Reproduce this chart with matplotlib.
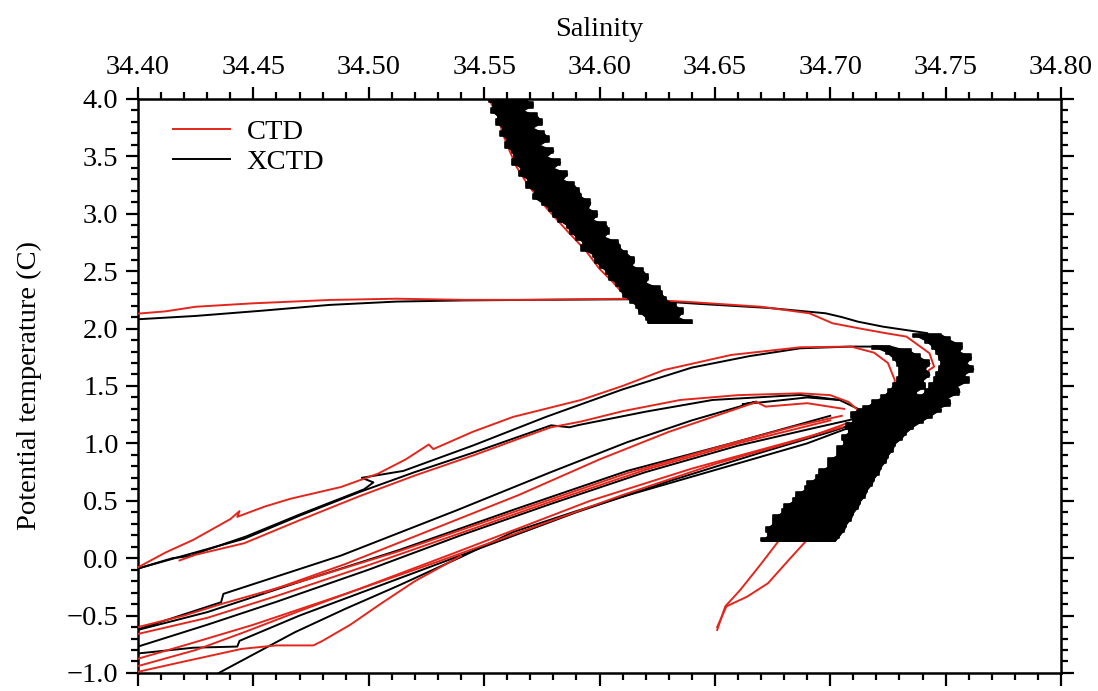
import matplotlib
matplotlib.use("Agg")
import matplotlib.pyplot as plt
from matplotlib.ticker import MultipleLocator, FormatStrFormatter, FuncFormatter

plt.rcParams["font.family"] = ["Liberation Serif", "DejaVu Serif"]

RED = "#e3261c"
BLACK = "#000000"
FS = 20.5

# ---- CTD profiles (salinity, potential temperature) ----
ctd_top_s = [34.552, 34.556, 34.558, 34.561, 34.564, 34.569, 34.577, 34.586, 34.594, 34.600, 34.606, 34.610, 34.615, 34.625]
ctd_top_t = [4.00, 3.85, 3.70, 3.55, 3.41, 3.25, 3.05, 2.85, 2.68, 2.52, 2.40, 2.31, 2.27, 2.25]

ctd_tongue_s = [34.400, 34.412, 34.425, 34.450, 34.483, 34.512, 34.541, 34.570, 34.613, 34.640, 34.670,
                34.691, 34.701, 34.713, 34.724, 34.733, 34.743, 34.745, 34.740, 34.735, 34.733, 34.729,
                34.722, 34.714, 34.705, 34.697, 34.690, 34.682, 34.673, 34.664, 34.655, 34.651]
ctd_tongue_t = [2.13, 2.15, 2.19, 2.22, 2.249, 2.26, 2.25, 2.25, 2.26, 2.23, 2.19,
                2.133, 2.046, 2.00, 1.96, 1.93, 1.785, 1.668, 1.60, 1.552, 1.436, 1.29,
                1.10, 0.90, 0.65, 0.40, 0.16, -0.016, -0.219, -0.335, -0.42, -0.60]

ctd_a_s = [34.400, 34.412, 34.424, 34.440, 34.444, 34.443, 34.455, 34.466, 34.488, 34.504, 34.516, 34.526,
           34.528, 34.545, 34.5625, 34.592, 34.610, 34.628, 34.657, 34.687, 34.709, 34.719, 34.725,
           34.728, 34.727, 34.722, 34.716, 34.708, 34.700, 34.692, 34.685, 34.678, 34.670, 34.661,
           34.6545, 34.651]
ctd_a_t = [-0.08, 0.05, 0.16, 0.34, 0.41, 0.36, 0.45, 0.517, 0.62, 0.736, 0.86, 0.99,
           0.95, 1.10, 1.23, 1.378, 1.50, 1.639, 1.77, 1.837, 1.843, 1.79, 1.70,
           1.55, 1.40, 1.29, 1.10, 0.88, 0.62, 0.40, 0.28, 0.16, -0.05, -0.277,
           -0.42, -0.625]

ctd_b_s = [34.418, 34.425, 34.446, 34.470, 34.496, 34.520, 34.546, 34.565, 34.579, 34.592, 34.610,
           34.635, 34.660, 34.687, 34.700, 34.708, 34.712]
ctd_b_t = [-0.02, 0.03, 0.13, 0.33, 0.54, 0.72, 0.90, 1.04, 1.14, 1.19, 1.28,
           1.378, 1.42, 1.436, 1.42, 1.36, 1.29]

ctd_h_s = [34.455, 34.490, 34.530, 34.565, 34.600, 34.630, 34.668, 34.672, 34.690, 34.706]
ctd_h_t = [-0.30, -0.05, 0.27, 0.55, 0.86, 1.10, 1.36, 1.32, 1.35, 1.30]

ctd_r1_s = [34.400, 34.420, 34.436, 34.471, 34.513, 34.5625, 34.612, 34.657, 34.685, 34.705]
ctd_r1_t = [-0.60, -0.50, -0.40, -0.20, 0.06, 0.40, 0.74, 1.00, 1.15, 1.24]
ctd_r2_s = [34.400, 34.430, 34.460, 34.500, 34.540, 34.580, 34.620, 34.660, 34.700]
ctd_r2_t = [-0.66, -0.52, -0.33, -0.06, 0.22, 0.50, 0.77, 1.00, 1.20]
ctd_r3_s = [34.400, 34.420, 34.450, 34.490, 34.530, 34.570, 34.610, 34.650, 34.690, 34.708]
ctd_r3_t = [-0.876, -0.76, -0.58, -0.31, -0.03, 0.26, 0.55, 0.82, 1.05, 1.18]
ctd_r4_s = [34.400, 34.425, 34.446, 34.470, 34.496, 34.538, 34.596, 34.640, 34.680, 34.705]
ctd_r4_t = [-0.94, -0.80, -0.645, -0.46, -0.267, 0.052, 0.50, 0.78, 1.00, 1.14]
ctd_r5_s = [34.400, 34.420, 34.445, 34.460, 34.476, 34.480, 34.492, 34.505, 34.520, 34.540]
ctd_r5_t = [-0.99, -0.90, -0.79, -0.76, -0.76, -0.72, -0.58, -0.40, -0.20, 0.02]

# ---- XCTD profiles ----
xctd_tongue_s = [34.400, 34.425, 34.454, 34.483, 34.512, 34.541, 34.570, 34.613, 34.644, 34.673,
                 34.698, 34.705, 34.712, 34.723, 34.742]
xctd_tongue_t = [2.081, 2.11, 2.156, 2.206, 2.235, 2.245, 2.25, 2.255, 2.214, 2.18,
                 2.133, 2.10, 2.06, 2.016, 1.96]

xctd_a_s = [34.400, 34.415, 34.423, 34.428, 34.447, 34.470, 34.498, 34.502, 34.497, 34.515, 34.545,
            34.577, 34.610, 34.640, 34.665, 34.687, 34.709, 34.723]
xctd_a_t = [-0.09, 0.00, 0.02, 0.06, 0.19, 0.38, 0.60, 0.66, 0.70, 0.76, 0.98,
            1.232, 1.47, 1.66, 1.76, 1.828, 1.843, 1.843]

xctd_b_s = [34.400, 34.446, 34.470, 34.496, 34.520, 34.546, 34.579, 34.587, 34.591, 34.620,
            34.649, 34.687, 34.704, 34.713]
xctd_b_t = [-0.09, 0.169, 0.37, 0.576, 0.75, 0.924, 1.157, 1.14, 1.16, 1.276,
            1.378, 1.422, 1.378, 1.291]

xctd_h_s = [34.400, 34.436, 34.437, 34.488, 34.538, 34.579, 34.612, 34.640, 34.668, 34.662, 34.690, 34.704]
xctd_h_t = [-0.62, -0.384, -0.311, 0.023, 0.416, 0.75, 1.01, 1.20, 1.363, 1.34, 1.40, 1.378]

xctd_k1_s = [34.400, 34.430, 34.460, 34.500, 34.540, 34.580, 34.620, 34.660, 34.690, 34.712]
xctd_k1_t = [-0.77, -0.58, -0.38, -0.10, 0.20, 0.48, 0.75, 0.98, 1.12, 1.22]
xctd_k2_s = [34.400, 34.424, 34.443, 34.444, 34.470, 34.510, 34.550, 34.590, 34.630, 34.670, 34.700, 34.715]
xctd_k2_t = [-0.83, -0.78, -0.77, -0.72, -0.50, -0.20, 0.10, 0.40, 0.67, 0.92, 1.10, 1.20]
xctd_k3_s = [34.435, 34.468, 34.490, 34.513, 34.540, 34.5625, 34.590, 34.612, 34.657, 34.690, 34.710]
xctd_k3_t = [-1.00, -0.645, -0.44, -0.238, 0.01, 0.227, 0.41, 0.547, 0.808, 1.00, 1.15]
xctd_k4_s = [34.400, 34.430, 34.471, 34.513, 34.5625, 34.612, 34.657, 34.700]
xctd_k4_t = [-0.625, -0.47, -0.20, 0.07, 0.42, 0.76, 1.00, 1.24]

# ---- XCTD spike envelopes (left / right salinity edge at each temperature) ----
band_up_t = [4.00, 3.95, 3.90, 3.85, 3.80, 3.75, 3.70, 3.65, 3.60, 3.55, 3.50, 3.45, 3.40, 3.35,
             3.30, 3.25, 3.20, 3.15, 3.10, 3.05, 3.00, 2.95, 2.90, 2.85, 2.80, 2.75, 2.70, 2.65,
             2.60, 2.55, 2.50, 2.45, 2.40, 2.35, 2.30, 2.25, 2.20, 2.15, 2.10, 2.05]
band_up_l = [34.552, 34.554, 34.553, 34.556, 34.555, 34.558, 34.557, 34.560, 34.559, 34.562, 34.563,
             34.562, 34.566, 34.565, 34.569, 34.568, 34.572, 34.571, 34.575, 34.578, 34.580, 34.582,
             34.586, 34.587, 34.590, 34.593, 34.592, 34.597, 34.598, 34.600, 34.603, 34.604, 34.607,
             34.609, 34.610, 34.613, 34.616, 34.617, 34.620, 34.621]
band_up_r = [34.568, 34.571, 34.567, 34.573, 34.575, 34.571, 34.576, 34.578, 34.574, 34.580, 34.577,
             34.583, 34.580, 34.586, 34.584, 34.589, 34.591, 34.592, 34.596, 34.595, 34.599, 34.597,
             34.603, 34.604, 34.602, 34.608, 34.609, 34.612, 34.615, 34.614, 34.619, 34.621, 34.620,
             34.626, 34.627, 34.629, 34.633, 34.636, 34.634, 34.640]

band_out_t = [1.95, 1.90, 1.85, 1.80, 1.75, 1.70, 1.65, 1.60, 1.55, 1.50, 1.45, 1.40, 1.35, 1.30]
band_out_l = [34.736, 34.741, 34.744, 34.746, 34.747, 34.748, 34.747, 34.746, 34.745, 34.743, 34.741,
              34.738, 34.734, 34.728]
band_out_r = [34.748, 34.752, 34.757, 34.756, 34.761, 34.759, 34.762, 34.758, 34.760, 34.755, 34.756,
              34.751, 34.752, 34.746]

band_in_t = [1.85, 1.80, 1.75, 1.70, 1.65, 1.60, 1.55, 1.50, 1.45, 1.40, 1.35, 1.30]
band_in_l = [34.718, 34.724, 34.727, 34.729, 34.730, 34.730, 34.729, 34.727, 34.725, 34.722, 34.718, 34.714]
band_in_r = [34.726, 34.735, 34.739, 34.743, 34.741, 34.743, 34.740, 34.741, 34.737, 34.738, 34.734, 34.735]

band_low_t = [1.30, 1.25, 1.20, 1.15, 1.10, 1.05, 1.00, 0.95, 0.90, 0.85, 0.80, 0.75, 0.70, 0.65,
              0.60, 0.55, 0.50, 0.45, 0.40, 0.35, 0.30, 0.25, 0.20, 0.15]
band_low_l = [34.712, 34.709, 34.710, 34.707, 34.708, 34.705, 34.706, 34.703, 34.703, 34.699, 34.699,
              34.695, 34.694, 34.690, 34.689, 34.685, 34.684, 34.680, 34.679, 34.675, 34.675, 34.672,
              34.673, 34.670]
band_low_r = [34.748, 34.744, 34.740, 34.736, 34.733, 34.731, 34.728, 34.727, 34.725, 34.724, 34.722,
              34.721, 34.719, 34.718, 34.716, 34.715, 34.713, 34.712, 34.710, 34.709, 34.707, 34.706,
              34.704, 34.702]

ctd_lines = [(ctd_top_s, ctd_top_t), (ctd_tongue_s, ctd_tongue_t), (ctd_a_s, ctd_a_t),
             (ctd_b_s, ctd_b_t), (ctd_h_s, ctd_h_t), (ctd_r1_s, ctd_r1_t), (ctd_r2_s, ctd_r2_t),
             (ctd_r3_s, ctd_r3_t), (ctd_r4_s, ctd_r4_t), (ctd_r5_s, ctd_r5_t)]
xctd_lines = [(xctd_tongue_s, xctd_tongue_t), (xctd_a_s, xctd_a_t), (xctd_b_s, xctd_b_t),
              (xctd_h_s, xctd_h_t), (xctd_k1_s, xctd_k1_t), (xctd_k2_s, xctd_k2_t),
              (xctd_k3_s, xctd_k3_t), (xctd_k4_s, xctd_k4_t)]
bands = [(band_up_t, band_up_l, band_up_r), (band_out_t, band_out_l, band_out_r),
         (band_in_t, band_in_l, band_in_r), (band_low_t, band_low_l, band_low_r)]

fig = plt.figure(figsize=(10.98, 6.91), dpi=100)
ax = fig.add_axes([0.1257, 0.0261, 0.8406, 0.8307])

for s, t in xctd_lines:
    ax.plot(s, t, color=BLACK, lw=1.4, zorder=2)
for s, t in ctd_lines:
    ax.plot(s, t, color=RED, lw=1.4, zorder=3)
for t, l, r in bands:
    # noisy XCTD traces: horizontal spikes drawn as a stepped envelope
    ax.fill_betweenx(t, l, r, step="mid", color=BLACK, lw=1.2, zorder=4)
    ax.fill_betweenx(t, l, r, color=BLACK, lw=0.8, zorder=4)

ax.set_xlim(34.40, 34.80)
ax.set_ylim(-1.0, 4.0)
ax.xaxis.set_major_locator(MultipleLocator(0.05))
ax.xaxis.set_minor_locator(MultipleLocator(0.01))
ax.yaxis.set_major_locator(MultipleLocator(0.5))
ax.yaxis.set_minor_locator(MultipleLocator(0.1))
ax.xaxis.set_major_formatter(FormatStrFormatter("%.2f"))
ax.yaxis.set_major_formatter(FuncFormatter(lambda v, p: f"{v:.1f}".replace("-", "\u2212")))

ax.tick_params(which="both", top=True, bottom=True, left=True, right=True,
               labeltop=True, labelbottom=False, labelleft=True, labelright=False,
               direction="out", width=1.6, labelsize=FS)
ax.tick_params(which="major", length=9, pad=5)
ax.tick_params(which="minor", length=5)
for sp in ax.spines.values():
    sp.set_linewidth(1.8)

ax.xaxis.set_label_position("top")
ax.set_xlabel("Salinity", fontsize=FS, labelpad=13)
ax.set_ylabel("Potential temperature (C)", fontsize=FS, labelpad=18)

ax.plot([], [], color=RED, lw=1.4, label="CTD")
ax.plot([], [], color=BLACK, lw=1.4, label="XCTD")
h, lab = ax.get_legend_handles_labels()
ax.legend(h[-2:], lab[-2:], loc="upper left", bbox_to_anchor=(0.022, 0.99), frameon=False,
          fontsize=FS, handlelength=2.0, handletextpad=0.6, borderpad=0.0, labelspacing=0.15)

fig.savefig("out.png", dpi=100)
